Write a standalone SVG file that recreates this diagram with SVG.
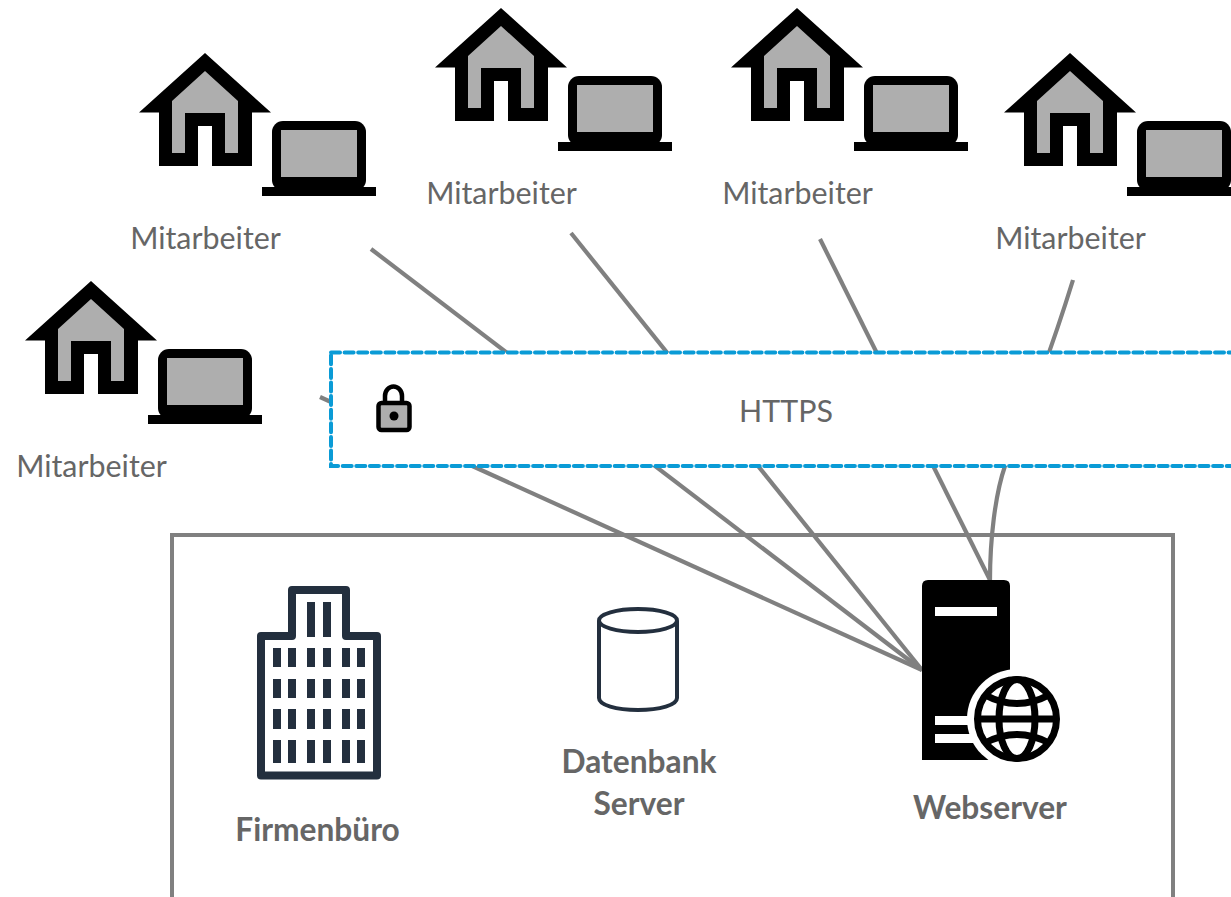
<svg xmlns="http://www.w3.org/2000/svg" width="1231" height="897" viewBox="0 0 1231 897">
<style>
text{font-family:Lato,"Open Sans","Liberation Sans",sans-serif;fill:#666;text-anchor:middle}
.l{font-size:30.4px}
.b{font-size:31.700px;font-weight:700}
.c{fill:none;stroke:#808080;stroke-width:4.200}
.ic{fill:none;stroke:#232f3e;stroke-linejoin:round}
.w{fill:#232f3e}
</style>
<defs>
<g id="emp">
<path d="M205 53L271 112.500H252V166H212V126H198V166H159V112.500H139Z" fill="#000"/>
<path d="M205 71L238 101V153H225V113H185V153H172V101Z" fill="#aeaeae"/>
<rect x="272" y="121" width="94" height="70" rx="11" fill="#000"/>
<rect x="281" y="130" width="76" height="47" fill="#aeaeae"/>
<rect x="262" y="187" width="114" height="9" fill="#000"/>
</g>
</defs>
<rect width="1231" height="897" fill="#fff"/>
<rect id="premises" x="172" y="535" width="1001" height="400" fill="none" stroke="#808080" stroke-width="4"/>
<g id="connectors">
<path class="c" d="M320 397L922 670"/>
<path class="c" d="M371 249L922 670"/>
<path class="c" d="M571 233L922 670"/>
<path class="c" d="M820 239L990 580"/>
<path class="c" d="M1073 280C1051 351 1032 400 1005 466C995 495 990 540 990 580"/>
</g>
<g id="https">
<rect x="331" y="352.500" width="960" height="113.500" fill="#fff" stroke="#0a9bd6" stroke-width="4" stroke-dasharray="9 4.600" stroke-linecap="round"/>
<path d="M385 403V396A8.500 9.500 0 0 1 402 396V403" fill="none" stroke="#000" stroke-width="4.500"/>
<rect x="378.500" y="403" width="31" height="27" rx="3" fill="#aeaeae" stroke="#000" stroke-width="4.500"/>
<circle cx="394" cy="416" r="4.500" fill="#000"/>
<text class="l" x="786" y="422">HTTPS</text>
</g>
<g id="emp1"><use href="#emp"/><text class="l" x="205.500" y="249">Mitarbeiter</text></g>
<g id="emp2"><use href="#emp" x="296" y="-45"/><text class="l" x="501.500" y="203.500">Mitarbeiter</text></g>
<g id="emp3"><use href="#emp" x="592" y="-45"/><text class="l" x="797.500" y="203.500">Mitarbeiter</text></g>
<g id="emp4"><use href="#emp" x="865" y="0"/><text class="l" x="1070.500" y="249">Mitarbeiter</text></g>
<g id="emp5"><use href="#emp" x="-114" y="228"/><text class="l" x="91.500" y="477">Mitarbeiter</text></g>
<g id="office">
<path class="ic" stroke-width="8" d="M292 636V590H346V636H377V775.500H261V636Z"/>
<path class="w" d="M307 602h8v35h-8zM323 602h8v35h-8z"/>
<path class="w" d="M273 648h8v19h-8zM288 648h8v19h-8zM307 648h8v19h-8zM323 648h8v19h-8zM342 648h8v19h-8zM357 648h8v19h-8z"/>
<path class="w" d="M273 679h8v19h-8zM288 679h8v19h-8zM307 679h8v19h-8zM323 679h8v19h-8zM342 679h8v19h-8zM357 679h8v19h-8z"/>
<path class="w" d="M273 709h8v20h-8zM288 709h8v20h-8zM307 709h8v20h-8zM323 709h8v20h-8zM342 709h8v20h-8zM357 709h8v20h-8z"/>
<path class="w" d="M273 740h8v23h-8zM288 740h8v23h-8zM307 740h8v23h-8zM323 740h8v23h-8zM342 740h8v23h-8zM357 740h8v23h-8z"/>
<text class="b" x="317.500" y="841">Firmenbüro</text>
</g>
<g id="database">
<ellipse class="ic" stroke-width="4" cx="638" cy="620.500" rx="39" ry="11.500"/>
<path class="ic" stroke-width="4" d="M599 621V698C599 705 616 710 638 710S677 705 677 698V621"/>
<text class="b" x="639" y="773">Datenbank</text>
<text class="b" x="639" y="815">Server</text>
</g>
<g id="webserver">
<path d="M922 760V586Q922 580 928 580H1004Q1010 580 1010 586V760Z" fill="#000"/>
<rect x="935" y="607" width="62" height="9" fill="#fff"/>
<rect x="935" y="716" width="40" height="9" fill="#fff"/>
<rect x="935" y="734" width="40" height="9" fill="#fff"/>
<circle cx="1017" cy="719" r="50" fill="#fff"/>
<path d="M960 760.500H1070V780H960Z" fill="#fff"/>
<g fill="none" stroke="#000" stroke-width="7">
<circle cx="1017" cy="719" r="39.500"/>
<ellipse cx="1017" cy="719" rx="18" ry="39.500"/>
<path d="M977 719H1057M985 695Q1017 712 1049 695M985 743Q1017 726 1049 743"/>
</g>
<text class="b" x="990" y="819">Webserver</text>
</g>
</svg>
